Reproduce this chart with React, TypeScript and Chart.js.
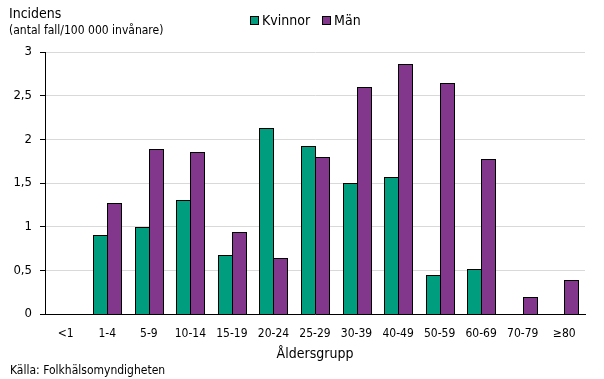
import React, { useEffect, useRef } from "react";
import { Chart, registerables } from "chart.js";

Chart.register(...registerables);

const categories = ["<1", "1-4", "5-9", "10-14", "15-19", "20-24", "25-29", "30-39", "40-49", "50-59", "60-69", "70-79", "≥80"];
const kvinnor: (number | null)[] = [null, 0.9, 1.0, 1.3, 0.67, 2.13, 1.92, 1.5, 1.57, 0.45, 0.52, null, null];
const man: (number | null)[] = [null, 1.27, 1.89, 1.85, 0.94, 0.64, 1.8, 2.6, 2.86, 2.64, 1.77, 0.2, 0.39];
const yTicks = [0, 0.5, 1, 1.5, 2, 2.5, 3];

const GREEN = "#009E7E";
const PURPLE = "#82368C";
const FONT = "'DejaVu Sans Condensed', 'DejaVu Sans', sans-serif";

// Snap bars to whole pixels so the black outlines stay crisp and adjacent bars share one edge
const snapBars = {
  id: "snapBars",
  beforeDatasetsDraw(chart: any) {
    const xs = chart.scales.x;
    chart.data.datasets.forEach((_: any, di: number) => {
      const meta = chart.getDatasetMeta(di);
      meta.data.forEach((el: any, i: number) => {
        const c = Math.round(xs.getPixelForValue(i));
        const w = 15;
        const left = di === 0 ? c - 14 : c;
        el.width = w;
        el.x = left + w / 2;
        el.y = Math.round(el.y);
        el.base = Math.round(el.base) + 1;
      });
    });
  },
};

export default function App() {
  const ref = useRef<HTMLCanvasElement | null>(null);
  useEffect(() => {
    if (!ref.current) return;
    const chart = new Chart(ref.current, {
      type: "bar",
      data: {
        labels: categories,
        datasets: [
          { label: "Kvinnor", data: kvinnor, backgroundColor: GREEN, borderColor: "#000", borderWidth: 1, borderSkipped: false },
          { label: "Män", data: man, backgroundColor: PURPLE, borderColor: "#000", borderWidth: 1, borderSkipped: false },
        ],
      },
      plugins: [snapBars],
      options: {
        responsive: false,
        animation: false,
        devicePixelRatio: 1,
        layout: { padding: { top: 52, right: 19, bottom: 16, left: 0 } },
        plugins: { legend: { display: false }, tooltip: { enabled: false } },
        datasets: { bar: { barPercentage: 1, categoryPercentage: 0.7 } },
        scales: {
          x: {
            grid: { display: false },
            border: { display: true, color: "#000", width: 1 },
            ticks: { color: "#000", font: { family: FONT, size: 12 }, padding: 5, maxRotation: 0, autoSkip: false },
            title: { display: true, text: "Åldersgrupp", color: "#000", font: { family: FONT, size: 14 }, padding: 0 },
            afterFit: (s: any) => { s.height = 49; },
          },
          y: {
            min: 0,
            max: 3,
            afterBuildTicks: (s: any) => { s.ticks = yTicks.map((v) => ({ value: v })); },
            grid: { color: "#d9d9d9", lineWidth: 1, tickColor: "#000", tickLength: 5, drawTicks: true },
            border: { display: true, color: "#000", width: 1 },
            ticks: {
              color: "#000",
              font: { family: FONT, size: 13 },
              padding: 8,
              callback: (v: any) => String(v).replace(".", ","),
            },
            afterFit: (s: any) => { s.width = 45; },
          },
        },
      },
    });
    return () => chart.destroy();
  }, []);

  const txt: React.CSSProperties = { position: "absolute", fontFamily: FONT, color: "#000", whiteSpace: "nowrap", lineHeight: 1 };
  const box = (c: string): React.CSSProperties => ({ display: "inline-block", width: 7, height: 7, background: c, border: "1px solid #000", marginRight: 3, verticalAlign: "middle", position: "relative", top: -1 });

  return (
    <div style={{ position: "fixed", left: 0, top: 0, width: 604, height: 379, background: "#fff" }}>
      <canvas ref={ref} width={604} height={379} style={{ position: "absolute", left: 0, top: 0, width: 604, height: 379 }} />
      <div style={{ ...txt, left: 9, top: 6, fontSize: 14 }}>Incidens</div>
      <div style={{ ...txt, left: 9, top: 24, fontSize: 12 }}>(antal fall/100 000 invånare)</div>
      <div style={{ ...txt, left: 250, top: 13, fontSize: 14 }}>
        <span style={box(GREEN)} />Kvinnor
        <span style={{ ...box(PURPLE), marginLeft: 12 }} />Män
      </div>
      <div style={{ ...txt, left: 10, top: 364, fontSize: 12 }}>Källa: Folkhälsomyndigheten</div>
    </div>
  );
}
